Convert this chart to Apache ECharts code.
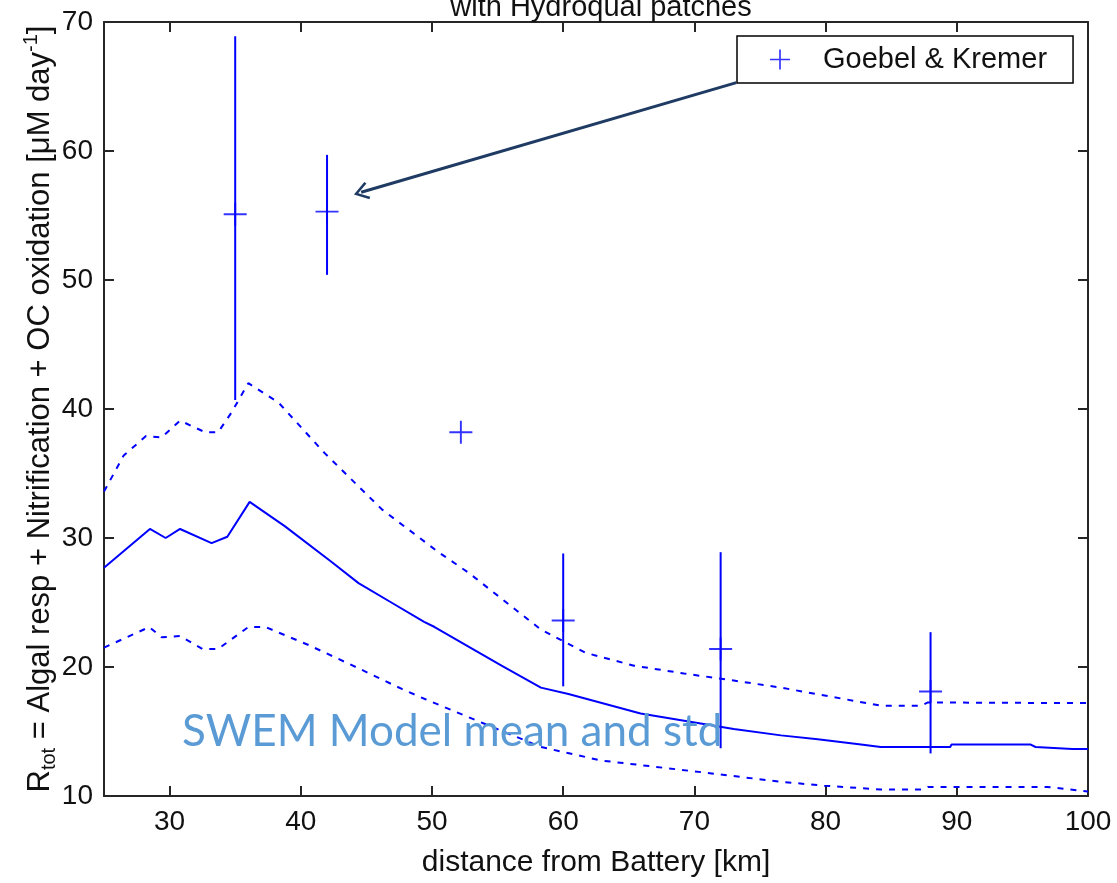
<!DOCTYPE html>
<html>
<head>
<meta charset="utf-8">
<script src="https://cdn.jsdelivr.net/npm/echarts@6/dist/echarts.min.js"></script>
<style>
  html, body { margin: 0; padding: 0; background: #fff; }
  #chart { width: 1117px; height: 883px; }
</style>
</head>
<body>
<div id="chart"></div>
<script>
// SWEM model mean (solid) and mean +/- std (dashed)
var meanX = [25, 28.5, 29.7, 30.8, 33.2, 34.4, 36.1, 38.8, 42.4, 44.4, 46.9, 49.4, 50.2, 55.3, 58.3, 60.4, 65.9, 73, 76.6, 79.4, 82.7, 84.2, 89.5, 89.6, 95.6, 96, 98.8, 100];
var meanY = [27.7, 30.7, 30.0, 30.7, 29.6, 30.1, 32.8, 30.9, 28.1, 26.5, 25.0, 23.5, 23.1, 20.1, 18.4, 17.9, 16.4, 15.2, 14.7, 14.4, 14.0, 13.8, 13.8, 14.0, 14.0, 13.8, 13.65, 13.65];

var upperX = [25, 26.5, 28.2, 29.4, 30.8, 32.7, 33.7, 34.7, 36.0, 38.3, 41.8, 46.2, 50.5, 52.8, 58.3, 61.7, 65.4, 69.2, 73, 76.6, 81.5, 84.2, 87.3, 87.8, 100];
var upperY = [33.6, 36.4, 37.9, 37.8, 39.1, 38.2, 38.2, 39.7, 42.0, 40.5, 36.6, 32.2, 28.9, 27.3, 22.9, 21.1, 20.1, 19.5, 18.95, 18.4, 17.5, 17.0, 17.0, 17.25, 17.2];

var lowerX = [25, 28.45, 29.4, 30.8, 32.5, 33.7, 36.0, 37.3, 40.6, 44.4, 47.7, 49.5, 54.0, 58.3, 62.9, 70.5, 76.6, 79.9, 84.2, 87.3, 87.8, 96.9, 100];
var lowerY = [21.5, 23.1, 22.3, 22.4, 21.4, 21.4, 23.1, 23.1, 21.7, 19.9, 18.3, 17.5, 15.6, 13.8, 12.75, 11.85, 11.1, 10.8, 10.5, 10.5, 10.7, 10.7, 10.35];

// Goebel & Kremer observations with error bars
var obsX = [35, 42, 52.2, 60, 72, 88];
var obsY = [55.1, 55.3, 38.2, 23.6, 21.4, 18.1];
var obsLow = [40.7, 50.4, 38.2, 18.5, 13.7, 13.3];
var obsHigh = [68.9, 59.7, 38.2, 28.8, 28.9, 22.7];

var xTicks = [30, 40, 50, 60, 70, 80, 90, 100];

// arrow annotation, in data units
var arrowFrom = [73.2, 65.3];
var arrowTo = [44.6, 56.8];

var blue = '#0000ff';
var axisColor = '#262626';
var matFont = "'Liberation Sans', Arial, sans-serif";
var plusPath = 'path://M11,0h2v24h-2z M0,11h24v2h-24z';
var chevronPath = 'path://M10,0 L20,14 L17.6,15.6 L10,4.6 L2.4,15.6 L0,14 Z';

function zip(xs, ys) {
  return xs.map(function (x, i) { return [x, ys[i]]; });
}

var chart = echarts.init(document.getElementById('chart'));

function xAxisCfg(pos, showLabel) {
  return {
    type: 'value', position: pos, min: 25, max: 100,
    axisLine: { show: true, onZero: false, lineStyle: { color: axisColor, width: 2 } },
    axisTick: { show: true, inside: true, length: 10, customValues: xTicks, lineStyle: { color: axisColor, width: 2 } },
    axisLabel: { show: showLabel, customValues: xTicks, fontFamily: matFont, fontSize: 28, color: '#111', margin: 12 },
    splitLine: { show: false }
  };
}
function yAxisCfg(pos, showLabel) {
  return {
    type: 'value', position: pos, min: 10, max: 70, interval: 10,
    axisLine: { show: true, onZero: false, lineStyle: { color: axisColor, width: 2 } },
    axisTick: { show: true, inside: true, length: 10, lineStyle: { color: axisColor, width: 2 } },
    axisLabel: { show: showLabel, fontFamily: matFont, fontSize: 28, color: '#111', margin: 11 },
    splitLine: { show: false }
  };
}

var xBottom = xAxisCfg('bottom', true);
xBottom.name = 'distance from Battery [km]';
xBottom.nameLocation = 'middle';
xBottom.nameGap = 52;
xBottom.nameMoveOverlap = false;
xBottom.nameTextStyle = { fontFamily: matFont, fontSize: 30, color: '#111' };

var yLeft = yAxisCfg('left', true);
yLeft.name = '{n|R}{sub|tot}{n| = Algal resp + Nitrification + OC oxidation [}{n|\u03bcM day}{sup|-1}{n|]}';
yLeft.nameLocation = 'middle';
yLeft.nameGap = 45;
yLeft.nameRotate = 90;
yLeft.nameMoveOverlap = false;
yLeft.nameTextStyle = {
  fontFamily: matFont, color: '#111',
  rich: {
    n: { fontFamily: matFont, fontSize: 31, lineHeight: 38, color: '#111' },
    sub: { fontFamily: matFont, fontSize: 20, lineHeight: 20, verticalAlign: 'bottom', color: '#111' },
    sup: { fontFamily: matFont, fontSize: 20, lineHeight: 20, verticalAlign: 'top', color: '#111' }
  }
};

chart.setOption({
  animation: false,
  backgroundColor: '#fff',
  title: {
    text: 'with Hydroqual patches',
    left: 596, top: -12, textAlign: 'center',
    textStyle: { fontFamily: matFont, fontSize: 29, fontWeight: 'normal', color: '#111' }
  },
  grid: { left: 104, right: 29, top: 22, bottom: 86, containLabel: false },
  legend: {
    left: 737, top: 36,
    data: [{ name: 'Goebel & Kremer', icon: plusPath }],
    itemWidth: 20, itemHeight: 20,
    padding: [9, 26, 9, 33],
    backgroundColor: '#fff',
    borderColor: '#000', borderWidth: 1.5, borderRadius: 0,
    textStyle: { fontFamily: matFont, fontSize: 29, color: '#111', padding: [0, 0, 0, 28] }
  },
  xAxis: [xBottom, xAxisCfg('top', false)],
  yAxis: [yLeft, yAxisCfg('right', false)],
  graphic: [{
    type: 'text', left: 182, top: 710, z: 100,
    style: { text: 'SWEM Model mean and std', fontFamily: 'Lato, "Open Sans", sans-serif', fontSize: 44, fill: '#5b9bd5' }
  }],
  series: [
    {
      name: 'mean', type: 'line', data: zip(meanX, meanY),
      showSymbol: false, lineStyle: { color: blue, width: 2 }, silent: true
    },
    {
      name: 'mean+std', type: 'line', data: zip(upperX, upperY),
      showSymbol: false, lineStyle: { color: blue, width: 2, type: [6, 7] }, silent: true
    },
    {
      name: 'mean-std', type: 'line', data: zip(lowerX, lowerY),
      showSymbol: false, lineStyle: { color: blue, width: 2, type: [6, 7] }, silent: true
    },
    {
      name: 'errorbars', type: 'custom',
      data: obsX.map(function (x, i) { return [x, obsLow[i], obsHigh[i]]; }),
      renderItem: function (params, api) {
        var lo = api.coord([api.value(0), api.value(1)]);
        var hi = api.coord([api.value(0), api.value(2)]);
        return {
          type: 'line',
          shape: { x1: lo[0], y1: lo[1], x2: hi[0], y2: hi[1] },
          style: { stroke: blue, lineWidth: 2 }
        };
      },
      silent: true
    },
    {
      name: 'Goebel & Kremer', type: 'scatter', data: zip(obsX, obsY),
      symbol: plusPath, symbolSize: 23,
      itemStyle: { color: blue },
      markLine: {
        silent: true,
        symbol: ['none', chevronPath],
        symbolSize: [18, 15],
        label: { show: false },
        lineStyle: { color: '#1f3b63', width: 3, type: 'solid' },
        data: [[{ coord: arrowFrom }, { coord: arrowTo }]]
      }
    }
  ]
});
</script>
</body>
</html>
